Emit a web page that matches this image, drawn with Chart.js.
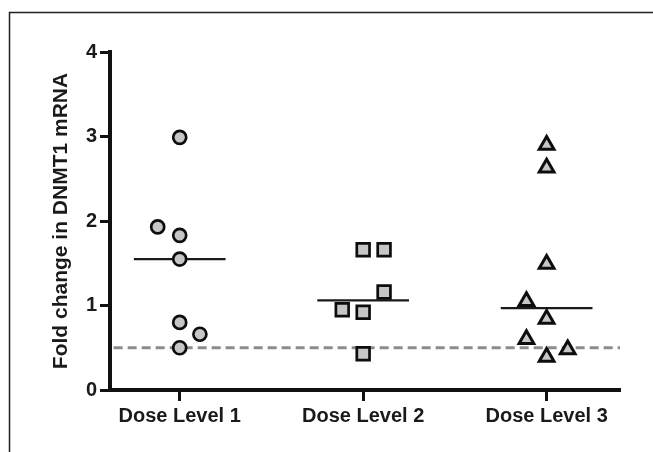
<!DOCTYPE html>
<html>
<head>
<meta charset="utf-8">
<script src="https://cdn.jsdelivr.net/npm/chart.js@4"></script>
<style>
  html, body { margin: 0; padding: 0; background: #fff; }
  canvas { display: block; }
</style>
</head>
<body>
<canvas id="c" width="653" height="452"></canvas>
<script>
// ---- data ----
const categories = ["Dose Level 1", "Dose Level 2", "Dose Level 3"];
const yTicks = [0, 1, 2, 3, 4];

const dose1Values = [2.99, 1.93, 1.83, 1.55, 0.80, 0.66, 0.50];
const dose1Jitter = [0, -0.12, 0, 0, 0, 0.11, 0];

const dose2Values = [1.66, 1.66, 1.16, 0.95, 0.92, 0.43];
const dose2Jitter = [0, 0.114, 0.114, -0.114, 0, 0];

const dose3Values = [2.90, 2.63, 1.49, 1.05, 0.84, 0.60, 0.39, 0.48];
const dose3Jitter = [0, 0, 0, -0.11, 0, -0.11, 0, 0.115];

const medians = [1.55, 1.06, 0.97];
const thresholdValue = 0.5;

// ---- build library data ----
const FONT = "'Liberation Sans', Arial, Helvetica, sans-serif";
const MEDIAN_HALF = 0.25;
function pts(vals, jit, cat) {
  return vals.map((v, i) => ({ x: cat + 1 + jit[i], y: v }));
}
function medianLine(i) {
  return [{ x: i + 1 - MEDIAN_HALF, y: medians[i] }, { x: i + 1 + MEDIAN_HALF, y: medians[i] }];
}

const markerFill = '#c6c6c6';
const markerBorder = '#0d0d0d';

const datasets = [
  {
    type: 'line', label: 'threshold',
    data: [{ x: 0.64, y: thresholdValue }, { x: 3.4, y: thresholdValue }],
    borderColor: '#8c8c8c', borderWidth: 3, borderDash: [9, 5],
    pointRadius: 0, fill: false, order: 5
  },
  ...[0, 1, 2].map(i => ({
    type: 'line', label: 'median ' + (i + 1),
    data: medianLine(i),
    borderColor: '#1a1a1a', borderWidth: 2.2,
    pointRadius: 0, fill: false, order: 4
  })),
  {
    type: 'scatter', label: categories[0], data: pts(dose1Values, dose1Jitter, 0),
    pointStyle: 'circle', pointRadius: 6.5, borderWidth: 2.7,
    backgroundColor: markerFill, borderColor: markerBorder, order: 1
  },
  {
    type: 'scatter', label: categories[1], data: pts(dose2Values, dose2Jitter, 1),
    pointStyle: 'rect', pointRadius: 9, borderWidth: 2.7,
    backgroundColor: markerFill, borderColor: markerBorder, order: 1
  },
  {
    type: 'scatter', label: categories[2], data: pts(dose3Values, dose3Jitter, 2),
    pointStyle: 'triangle', pointRadius: 8.5, borderWidth: 3,
    backgroundColor: markerFill, borderColor: markerBorder, order: 1
  }
];

const framePlugin = {
  id: 'frame',
  beforeDraw(chart) {
    const ctx = chart.ctx;
    ctx.save();
    ctx.fillStyle = '#fff';
    ctx.fillRect(0, 0, chart.width, chart.height);
    ctx.strokeStyle = '#222';
    ctx.lineWidth = 1.5;
    ctx.beginPath();
    ctx.moveTo(9.5, chart.height);
    ctx.lineTo(9.5, 12.5);
    ctx.lineTo(chart.width, 12.5);
    ctx.stroke();
    ctx.restore();
  }
};

new Chart(document.getElementById('c'), {
  type: 'scatter',
  data: { datasets },
  options: {
    responsive: false,
    animation: false,
    devicePixelRatio: 1,
    layout: { padding: { left: 0, top: 52, right: 33, bottom: 0 } },
    plugins: { legend: { display: false }, tooltip: { enabled: false } },
    scales: {
      x: {
        type: 'linear', min: 0.62, max: 3.4,
        afterBuildTicks: s => { s.ticks = categories.map((c, i) => ({ value: i + 1 })); },
        afterFit: s => { s.height = 62; },
        ticks: {
          callback: v => categories[Math.round(v) - 1] || '',
          font: { family: FONT, size: 20, weight: 'bold' },
          color: '#1a1a1a', padding: 3, maxRotation: 0, autoSkip: false
        },
        grid: { drawOnChartArea: false, drawTicks: true, tickLength: 11, tickWidth: 3, tickColor: '#111' },
        border: { display: true, width: 4, color: '#111' }
      },
      y: {
        type: 'linear', min: 0, max: 4,
        afterBuildTicks: s => { s.ticks = yTicks.map(v => ({ value: v })); },
        afterFit: s => { s.width = 110; },
        ticks: {
          font: { family: FONT, size: 20, weight: 'bold' },
          color: '#1a1a1a', padding: 3
        },
        grid: { drawOnChartArea: false, drawTicks: true, tickLength: 10, tickWidth: 3, tickColor: '#111' },
        border: { display: true, width: 4, color: '#111' },
        title: {
          display: true, text: 'Fold change in DNMT1 mRNA',
          font: { family: FONT, size: 21, weight: 'bold' },
          color: '#1a1a1a', padding: { top: 49, bottom: 0 }
        }
      }
    }
  },
  plugins: [framePlugin]
});
</script>
</body>
</html>
